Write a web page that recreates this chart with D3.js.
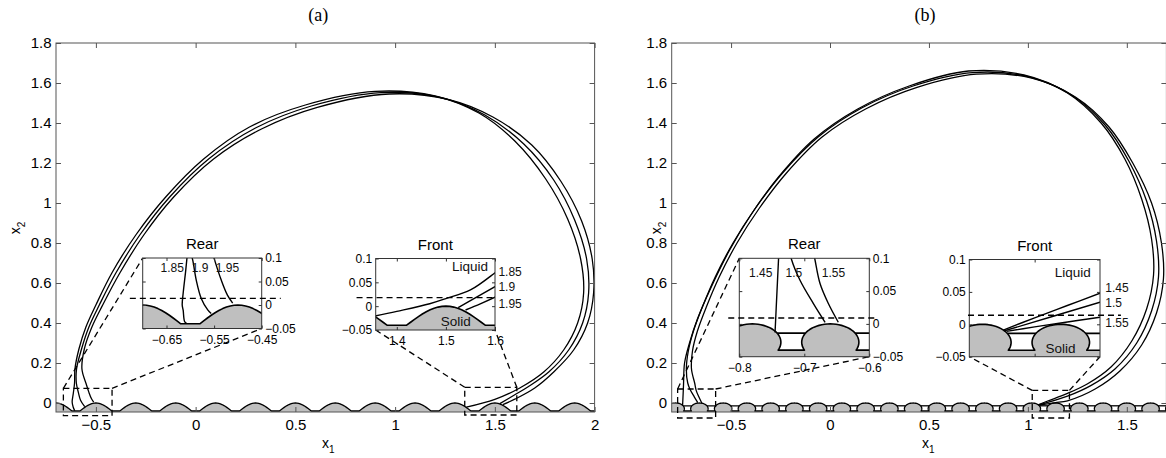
<!DOCTYPE html>
<html>
<head>
<meta charset="utf-8">
<script src="https://cdn.jsdelivr.net/npm/d3@7"></script>
<style>
  body { margin: 0; background: #fff; }
  svg { display: block; font-family: "Liberation Sans", Arial, sans-serif; }
</style>
</head>
<body>
<svg id="chart" width="1166" height="458"></svg>
<script>
// ---- values ----
const yTicksMain = [0, 0.2, 0.4, 0.6, 0.8, 1, 1.2, 1.4, 1.6, 1.8];
const xTicksA = [-0.5, 0, 0.5, 1, 1.5, 2];
const xTicksB = [-0.5, 0, 0.5, 1, 1.5];
const insetYTicks = [-0.05, 0, 0.05, 0.1];

const labelsA = ['1.85', '1.9', '1.95'];
const labelsB = ['1.45', '1.5', '1.55'];

// substrate bump positions
const bumpPeaksA = [-0.9, -0.7, -0.5, -0.3, -0.1, 0.1, 0.3, 0.5, 0.7, 0.9, 1.1, 1.3, 1.5, 1.7, 1.9, 2.1];
const bumpCentresB = [-0.9, -0.78, -0.66, -0.54, -0.42, -0.3, -0.18, -0.06, 0.06, 0.18, 0.3, 0.42,
  0.54, 0.66, 0.78, 0.9, 1.02, 1.14, 1.26, 1.38, 1.5, 1.62, 1.74];

// (a) trajectories
const trajA185 = [[-0.606,-0.039],[-0.614,-0.02],[-0.619,0.005],[-0.613,0.05],[-0.607,0.1],[-0.605,0.17],
  [-0.585,0.27],[-0.55,0.38],[-0.5,0.49],[-0.42,0.65],[-0.3,0.84],[-0.15,1.03],[0.04,1.22],[0.27,1.38],
  [0.55,1.49],[0.9,1.558],[1.2,1.535],[1.42,1.45],[1.6,1.31],[1.755,1.12],[1.865,0.92],[1.93,0.72],
  [1.945,0.55],[1.915,0.4],[1.845,0.265],[1.745,0.155],[1.625,0.075],[1.5,0.018],[1.357,-0.021]];
const trajA19 = [[-0.556,-0.018],[-0.577,0.014],[-0.588,0.053],[-0.598,0.1],[-0.597,0.17],[-0.572,0.27],
  [-0.535,0.38],[-0.483,0.49],[-0.4,0.65],[-0.28,0.84],[-0.13,1.03],[0.065,1.22],[0.3,1.375],[0.58,1.485],
  [0.93,1.552],[1.23,1.527],[1.45,1.44],[1.645,1.295],[1.795,1.115],[1.9,0.915],[1.96,0.72],[1.97,0.55],
  [1.94,0.4],[1.87,0.265],[1.77,0.155],[1.665,0.08],[1.6,0.041],[1.525,-0.003]];
const trajA195 = [[-0.511,0.004],[-0.522,0.021],[-0.535,0.053],[-0.549,0.096],[-0.57,0.17],[-0.558,0.27],
  [-0.52,0.38],[-0.466,0.49],[-0.38,0.65],[-0.26,0.84],[-0.11,1.03],[0.09,1.22],[0.33,1.37],[0.61,1.478],
  [0.97,1.545],[1.27,1.517],[1.49,1.43],[1.685,1.29],[1.83,1.11],[1.935,0.91],[1.988,0.72],[1.995,0.55],
  [1.965,0.4],[1.895,0.265],[1.795,0.155],[1.7,0.075],[1.6,0.019],[1.54,-0.008]];

// (b) trajectories
const trajB145 = [[-0.745,-0.013],[-0.742,0.05],[-0.74,0.1],[-0.735,0.2],[-0.71,0.3],[-0.67,0.42],
  [-0.6,0.58],[-0.51,0.76],[-0.4,0.94],[-0.26,1.13],[-0.08,1.32],[0.14,1.47],[0.4,1.585],[0.7,1.66],
  [0.98,1.64],[1.2,1.55],[1.37,1.4],[1.49,1.22],[1.575,1.02],[1.625,0.82],[1.635,0.64],[1.6,0.47],
  [1.525,0.31],[1.42,0.18],[1.3,0.095],[1.2,0.048],[1.1,0.01],[1.052,-0.009]];
const trajB15 = [[-0.668,0.002],[-0.686,0.031],[-0.707,0.067],[-0.719,0.1],[-0.726,0.17],[-0.716,0.26],
  [-0.69,0.36],[-0.645,0.48],[-0.58,0.63],[-0.49,0.8],[-0.38,0.97],[-0.24,1.15],[-0.06,1.33],[0.16,1.475],
  [0.42,1.585],[0.72,1.652],[1.0,1.632],[1.22,1.54],[1.39,1.39],[1.51,1.21],[1.6,1.01],[1.65,0.81],
  [1.66,0.63],[1.625,0.46],[1.55,0.3],[1.44,0.17],[1.32,0.088],[1.2,0.034],[1.054,-0.01]];
const trajB155 = [[-0.648,0.0],[-0.663,0.031],[-0.676,0.062],[-0.684,0.1],[-0.7,0.17],[-0.695,0.26],
  [-0.67,0.36],[-0.625,0.48],[-0.56,0.63],[-0.47,0.8],[-0.36,0.97],[-0.22,1.15],[-0.04,1.33],[0.18,1.47],
  [0.44,1.578],[0.74,1.644],[1.02,1.624],[1.24,1.53],[1.41,1.38],[1.53,1.2],[1.625,1.0],[1.675,0.8],
  [1.685,0.62],[1.65,0.45],[1.575,0.29],[1.465,0.16],[1.34,0.07],[1.2,0.011],[1.14,0.002],[1.1,-0.004],
  [1.057,-0.011]];

// zoomed views
const rearA185 = [[-0.606,0.11],[-0.607,0.1],[-0.61,0.07],[-0.615,0.025],[-0.617,0.0],[-0.615,-0.011],[-0.612,-0.035],[-0.608,-0.039]];
const rearA19 = [[-0.599,0.11],[-0.595,0.096],[-0.5875,0.053],[-0.577,0.014],[-0.563,-0.011],[-0.556,-0.018]];
const rearA195 = [[-0.553,0.11],[-0.549,0.096],[-0.535,0.053],[-0.522,0.021],[-0.511,0.004]];
const frontA185 = [[1.35,-0.022],[1.4,-0.011],[1.467,0.005],[1.5,0.016],[1.55,0.034],[1.6,0.07],[1.61,0.078]];
const frontA19 = [[1.525,-0.003],[1.5625,0.019],[1.6,0.041],[1.61,0.047]];
const frontA195 = [[1.54,-0.008],[1.57,0.005],[1.6,0.019],[1.61,0.024]];
const rearB145 = [[-0.7393,0.11],[-0.7397,0.0974],[-0.742,0.05],[-0.745,-0.013]];
const rearB15 = [[-0.722,0.11],[-0.7194,0.0974],[-0.7066,0.0666],[-0.686,0.031],[-0.668,0.0025]];
const rearB155 = [[-0.686,0.11],[-0.6835,0.0974],[-0.6758,0.0615],[-0.663,0.031],[-0.6477,0.0025]];
const frontB145 = [[1.052,-0.009],[1.1,0.01],[1.15,0.029],[1.2,0.048],[1.21,0.052]];
const frontB15 = [[1.054,-0.01],[1.2,0.034],[1.21,0.037]];
const frontB155 = [[1.057,-0.011],[1.1,-0.004],[1.14,0.002],[1.2,0.011],[1.21,0.0125]];

// ---- drawing ----
const svg = d3.select('#chart');
const GREY = '#bfbfbf';
const AXIS = '#555';
const fmt = d3.format('~g');

function cosBump(c) {            // rounded hump of panel (a)
  return d3.range(21).map(i => {
    const d = -0.08 + i * 0.008;
    return [c + d, -0.04 + 0.04 * Math.cos(Math.PI / 2 * d / 0.08)];
  });
}
const CAP = { a: 0.044, b: 0.028, yc: -0.028 };
CAP.th = Math.asin(0.012 / CAP.b);
function capBump(c) {            // undercut cap of panel (b)
  return d3.range(41).map(i => {
    const t = Math.PI + CAP.th - i * (Math.PI + 2 * CAP.th) / 40;
    return [c + CAP.a * Math.cos(t), CAP.yc + CAP.b * Math.sin(t)];
  });
}
const MENISCUS = -0.014;

function drawSubstrate(g, x, y, sub, yBottom, sw) {
  const profile = sub.centres.flatMap(sub.shape);
  const first = profile[0][0], last = profile[profile.length - 1][0];
  const line = d3.line().x(d => x(d[0])).y(d => y(d[1]));
  g.append('path').attr('d', line([...profile, [last, yBottom], [first, yBottom]]) + 'Z')
    .attr('fill', GREY).attr('stroke', 'none');
  g.append('path').attr('d', line(profile)).attr('fill', 'none')
    .attr('stroke', '#000').attr('stroke-width', sw).attr('stroke-linejoin', 'round');
  if (sub.meniscus) {
    const off = CAP.a * Math.sqrt(1 - ((MENISCUS - CAP.yc) / CAP.b) ** 2);
    d3.pairs(sub.centres).forEach(([c1, c2]) => {
      g.append('line').attr('x1', x(c1 + off)).attr('x2', x(c2 - off))
        .attr('y1', y(MENISCUS)).attr('y2', y(MENISCUS))
        .attr('stroke', '#000').attr('stroke-width', sw);
    });
  }
}

function drawAxes(g, x, y, o) {
  const [x0, x1] = x.range(), [y0, y1] = y.range();
  const none = () => '';
  const mk = (axis, tx, ty) => {
    const a = g.append('g').attr('transform', `translate(${tx},${ty})`).call(axis)
      .attr('font-family', null).attr('font-size', null);
    a.select('.domain').remove();
    a.selectAll('line').attr('stroke', o.stroke);
    a.selectAll('text').attr('font-size', o.font).attr('fill', '#000');
  };
  mk(d3.axisBottom(x).tickValues(o.xTicks).tickSize(-o.tick).tickPadding(o.xPad)
    .tickFormat(o.xLabels ? fmt : none), 0, y0);
  mk(d3.axisTop(x).tickValues(o.xTicks).tickSize(-o.tick).tickFormat(none), 0, y1);
  const right = o.ySide === 'right';
  mk(d3.axisLeft(y).tickValues(o.yTicks).tickSize(-o.tick).tickPadding(o.yPad)
    .tickFormat(right ? none : fmt), x0, 0);
  mk(d3.axisRight(y).tickValues(o.yTicks).tickSize(-o.tick).tickPadding(o.yPad)
    .tickFormat(right ? fmt : none), x1, 0);
  g.append('rect').attr('x', x0).attr('y', y1).attr('width', x1 - x0).attr('height', y0 - y1)
    .attr('fill', 'none').attr('stroke', o.stroke).attr('stroke-width', 1);
}

const traj = d3.curveCatmullRom.alpha(0.5);

function drawInset(parent, ins, xm, ym, id) {
  const x = d3.scaleLinear().domain(ins.xDomain).range([ins.left, ins.left + ins.w]);
  const y = d3.scaleLinear().domain([-0.05, 0.1]).range([ins.top + ins.h, ins.top]);
  const g = parent.append('g');

  // zoom rectangle in the main axes and its connectors
  const zr = ins.zoomRect;
  const dash = s => s.attr('fill', 'none').attr('stroke', '#000').attr('stroke-width', 1.3)
    .attr('stroke-dasharray', '6,4');
  g.append('rect').attr('x', xm(zr.x[0])).attr('y', ym(zr.y[1]))
    .attr('width', xm(zr.x[1]) - xm(zr.x[0])).attr('height', ym(zr.y[0]) - ym(zr.y[1])).call(dash);
  const rc = { tl: [xm(zr.x[0]), ym(zr.y[1])], tr: [xm(zr.x[1]), ym(zr.y[1])] };
  const ic = { tl: [ins.left, ins.top], bl: [ins.left, ins.top + ins.h], br: [ins.left + ins.w, ins.top + ins.h] };
  ins.links.forEach(([a, b]) => {
    g.append('line').attr('x1', rc[a][0]).attr('y1', rc[a][1]).attr('x2', ic[b][0]).attr('y2', ic[b][1]).call(dash);
  });

  g.append('rect').attr('x', ins.left).attr('y', ins.top).attr('width', ins.w).attr('height', ins.h)
    .attr('fill', '#fff');
  svg.append('clipPath').attr('id', id).append('rect')
    .attr('x', ins.left).attr('y', ins.top).attr('width', ins.w).attr('height', ins.h);
  const c = g.append('g').attr('clip-path', `url(#${id})`);
  drawSubstrate(c, x, y, ins.substrate, -0.06, 1.6);
  const line = d3.line().x(d => x(d[0])).y(d => y(d[1])).curve(traj);
  ins.lines.forEach(l => c.append('path').attr('d', line(l)).attr('fill', 'none')
    .attr('stroke', '#000').attr('stroke-width', 1.4));

  drawAxes(g, x, y, { xTicks: ins.xTicks, yTicks: insetYTicks, xLabels: ins.xLabels, ySide: ins.ySide,
    tick: 3, xPad: 6.5, yPad: 3.5, font: 12, stroke: '#333' });

  // threshold
  g.append('line').attr('x1', x(ins.threshold.x[0])).attr('x2', x(ins.threshold.x[1]))
    .attr('y1', y(ins.threshold.y)).attr('y2', y(ins.threshold.y)).call(dash);

  g.append('text').attr('x', ins.left + ins.w / 2).attr('y', ins.top - 9)
    .attr('text-anchor', 'middle').attr('font-size', 15).text(ins.title);
  ins.texts.forEach(t => g.append('text').attr('x', x(t.x)).attr('y', y(t.y))
    .attr('text-anchor', t.anchor || 'middle').attr('dy', t.dy || 0)
    .attr('font-size', t.size || 12).attr('fill', '#111').text(t.text));
}

function drawPanel(p) {
  const g = svg.append('g');
  const x = d3.scaleLinear().domain(p.xDomain).range([p.left, p.right]);
  const y = d3.scaleLinear().domain([-0.045, 1.8]).range([412, 43]);
  svg.append('clipPath').attr('id', p.id).append('rect')
    .attr('x', p.left).attr('y', 43).attr('width', p.right - p.left).attr('height', 369);
  const c = g.append('g').attr('clip-path', `url(#${p.id})`);
  drawSubstrate(c, x, y, p.substrate, -0.045, 1.3);
  const line = d3.line().x(d => x(d[0])).y(d => y(d[1])).curve(traj);
  p.trajectories.forEach(t => c.append('path').attr('d', line(t)).attr('fill', 'none')
    .attr('stroke', '#000').attr('stroke-width', 1.3));

  drawAxes(g, x, y, { xTicks: p.xTicks, yTicks: yTicksMain, xLabels: true, ySide: 'left',
    tick: 5, xPad: 7, yPad: 4.5, font: 15, stroke: AXIS });

  g.append('text').attr('x', (p.left + p.right) / 2 + (p.titleShift || 0)).attr('y', 21)
    .attr('text-anchor', 'middle').attr('font-family', '"Liberation Serif", "Times New Roman", serif')
    .attr('font-size', 18).text(p.title);
  const xl = g.append('text').attr('x', p.xLabelX).attr('y', 448).attr('font-size', 14);
  xl.append('tspan').text('x');
  xl.append('tspan').attr('font-size', 10).attr('dy', 5).text('1');
  const yl = g.append('text').attr('transform', `translate(${p.yLabelX},228) rotate(-90)`)
    .attr('text-anchor', 'middle').attr('font-size', 14);
  yl.append('tspan').text('x');
  yl.append('tspan').attr('font-size', 10).attr('dy', 5).text('2');

  p.insets.forEach((ins, i) => drawInset(g, ins, x, y, `${p.id}-in${i}`));
}

drawPanel({
  id: 'pa', title: '(a)', left: 56, right: 594.6, xDomain: [-0.7, 2], xTicks: xTicksA,
  titleShift: -7, xLabelX: 322, yLabelX: 20,
  substrate: { centres: bumpPeaksA, shape: cosBump },
  trajectories: [trajA185, trajA19, trajA195],
  insets: [
    { title: 'Rear', left: 142.7, top: 258, w: 119, h: 70.5, xDomain: [-0.7, -0.45],
      xTicks: [-0.65, -0.55, -0.45], xLabels: true, ySide: 'right',
      substrate: { centres: bumpPeaksA, shape: cosBump },
      lines: [rearA185, rearA19, rearA195],
      zoomRect: { x: [-0.663, -0.419], y: [-0.0635, 0.0735] }, links: [['tl', 'tl'], ['tr', 'br']],
      threshold: { y: 0.014, x: [-0.727, -0.41] },
      texts: [{ text: labelsA[0], x: -0.638, y: 0.07 }, { text: labelsA[1], x: -0.5796, y: 0.07 },
              { text: labelsA[2], x: -0.522, y: 0.07 }] },
    { title: 'Front', left: 375.7, top: 258.5, w: 119.3, h: 71.5, xDomain: [1.357, 1.6],
      xTicks: [1.4, 1.5, 1.6], xLabels: true, ySide: 'left',
      substrate: { centres: bumpPeaksA, shape: cosBump },
      lines: [frontA185, frontA19, frontA195],
      zoomRect: { x: [1.349, 1.61], y: [-0.06, 0.0785] }, links: [['tl', 'bl'], ['tr', 'br']],
      threshold: { y: 0.018, x: [1.318, 1.6] },
      texts: [{ text: 'Liquid', x: 1.586, y: 0.074, anchor: 'end', size: 13.5 },
              { text: 'Solid', x: 1.52, y: -0.041, size: 13.5 },
              { text: labelsA[0], x: 1.607, y: 0.0717, anchor: 'start', dy: '0.35em' },
              { text: labelsA[1], x: 1.607, y: 0.04, anchor: 'start', dy: '0.35em' },
              { text: labelsA[2], x: 1.607, y: 0.006, anchor: 'start', dy: '0.35em' }] }
  ]
});

drawPanel({
  id: 'pb', title: '(b)', left: 671.7, right: 1166.4, xDomain: [-0.8, 1.7], xTicks: xTicksB,
  titleShift: 6, xLabelX: 922, yLabelX: 661,
  substrate: { centres: bumpCentresB, shape: capBump, meniscus: true },
  trajectories: [trajB145, trajB15, trajB155],
  insets: [
    { title: 'Rear', left: 739.3, top: 258.3, w: 130, h: 98.4, xDomain: [-0.8, -0.6],
      xTicks: [-0.8, -0.7, -0.6], xLabels: true, ySide: 'right',
      substrate: { centres: bumpCentresB, shape: capBump, meniscus: true },
      lines: [rearB145, rearB15, rearB155],
      zoomRect: { x: [-0.77, -0.578], y: [-0.075, 0.07] }, links: [['tl', 'tl'], ['tr', 'br']],
      threshold: { y: 0.009, x: [-0.817, -0.59] },
      texts: [{ text: labelsB[0], x: -0.767, y: 0.071 }, { text: labelsB[1], x: -0.716, y: 0.071 },
              { text: labelsB[2], x: -0.655, y: 0.071 }] },
    { title: 'Front', left: 969.3, top: 259.5, w: 130.7, h: 97.2, xDomain: [1.0, 1.2],
      xTicks: [1.1], xLabels: false, ySide: 'left',
      substrate: { centres: bumpCentresB, shape: capBump, meniscus: true },
      lines: [frontB145, frontB15, frontB155],
      zoomRect: { x: [1.022, 1.21], y: [-0.075, 0.063] }, links: [['tl', 'bl'], ['tr', 'br']],
      threshold: { y: 0.014, x: [0.998, 1.232] },
      texts: [{ text: 'Liquid', x: 1.186, y: 0.073, anchor: 'end', size: 13.5 },
              { text: 'Solid', x: 1.1395, y: -0.044, size: 13.5 },
              { text: labelsB[0], x: 1.208, y: 0.0557, anchor: 'start', dy: '0.35em' },
              { text: labelsB[1], x: 1.208, y: 0.0326, anchor: 'start', dy: '0.35em' },
              { text: labelsB[2], x: 1.208, y: 0.003, anchor: 'start', dy: '0.35em' }] }
  ]
});
</script>
</body>
</html>
